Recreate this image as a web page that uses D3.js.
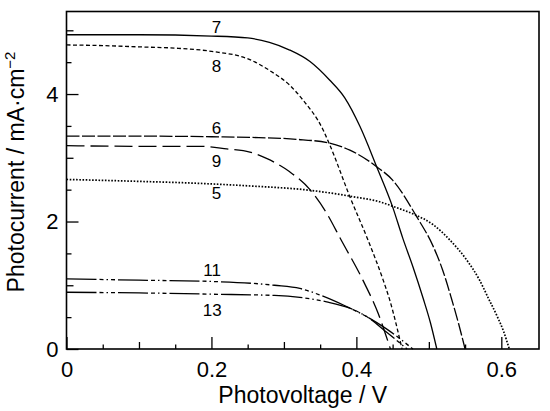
<!DOCTYPE html>
<html>
<head>
<meta charset="utf-8">
<script src="https://cdn.jsdelivr.net/npm/d3@7"></script>
<style>
  body { margin: 0; background: #fff; }
  svg { font-family: Arial, "Liberation Sans", sans-serif; }
</style>
</head>
<body>
<div class="diagram-canvas"></div>
<script>
// photocurrent–photovoltage curves, [V, mA/cm2]
const curve5 = [[0, 2.66], [0.1, 2.63], [0.18, 2.6], [0.25, 2.56], [0.336, 2.49], [0.395, 2.39],
  [0.432, 2.31], [0.455, 2.22], [0.48, 2.11], [0.506, 1.95], [0.529, 1.71], [0.552, 1.4],
  [0.57, 1.08], [0.582, 0.8], [0.594, 0.52], [0.603, 0.28], [0.611, 0]];
const curve6 = [[0, 3.34], [0.1, 3.34], [0.2, 3.33], [0.253, 3.32], [0.317, 3.29], [0.363, 3.23],
  [0.391, 3.12], [0.428, 2.86], [0.45, 2.65], [0.483, 2.08], [0.506, 1.61], [0.519, 1.24],
  [0.531, 0.8], [0.541, 0.4], [0.55, 0]];
const curve7 = [[0, 4.93], [0.1, 4.93], [0.2, 4.91], [0.25, 4.88], [0.28, 4.81], [0.308, 4.69],
  [0.336, 4.51], [0.363, 4.22], [0.384, 3.94], [0.405, 3.49], [0.428, 2.86], [0.45, 2.23],
  [0.464, 1.74], [0.478, 1.29], [0.492, 0.8], [0.502, 0.42], [0.511, 0]];
const curve8 = [[0, 4.77], [0.05, 4.76], [0.1, 4.74], [0.15, 4.72], [0.2, 4.67], [0.253, 4.54],
  [0.283, 4.35], [0.308, 4.14], [0.326, 3.91], [0.354, 3.44], [0.363, 3.21], [0.391, 2.39],
  [0.416, 1.71], [0.437, 1.08], [0.446, 0.77], [0.463, 0]];
const curve9 = [[0, 3.19], [0.1, 3.18], [0.184, 3.18], [0.221, 3.14], [0.253, 3.09], [0.276, 2.99],
  [0.308, 2.78], [0.336, 2.5], [0.359, 2.13], [0.379, 1.71], [0.409, 1.08], [0.43, 0.56], [0.447, 0]];
const curve11 = [[0, 1.1], [0.1, 1.08], [0.2, 1.06], [0.287, 1.0], [0.322, 0.95], [0.349, 0.85],
  [0.382, 0.69], [0.414, 0.51], [0.441, 0.32], [0.478, 0]];
const curve13 = [[0, 0.89], [0.1, 0.88], [0.2, 0.86], [0.287, 0.84], [0.322, 0.81], [0.359, 0.74],
  [0.391, 0.64], [0.418, 0.48], [0.441, 0.27], [0.47, 0]];

const curveNames = ["5", "6", "7", "8", "9", "11", "13"];
// where each number is written, in data units [V, J]
const labelSpots = [[0.207, 2.36], [0.207, 3.375], [0.207, 4.956], [0.207, 4.34], [0.207, 2.86],
  [0.201, 1.146], [0.201, 0.518]];

const xMajor = [0, 0.2, 0.4, 0.6];
const xMid = [0.1, 0.3, 0.5];
const xMinor = [0.05, 0.15, 0.25, 0.35, 0.45, 0.55];
const yMajor = [0, 2, 4];
const yMid = [1, 3, 5];
const yMinor = [0.5, 1.5, 2.5, 3.5, 4.5];

function chartIV() {
  let width = 550,
    height = 411,
    left = 66.5,
    top = 11.5,
    right = 539,
    bottom = 349;

  let curves = [curve5, curve6, curve7, curve8, curve9, curve11, curve13];
  let dashes = ["1.6,1.6", "13,2.5", null, "4,2.5", "18,6", "30,3,4,3,1.5,3,4,3", "30,3,4,3,1.5,3,4,3"];

  let xScale = d3.scaleLinear().domain([0, 0.652]).range([left, right]);
  let yScale = d3.scaleLinear().domain([0, 5.295]).range([bottom, top]);

  let svg = d3
    .select(".diagram-canvas")
    .append("svg")
    .attr("width", width)
    .attr("height", height);

  // ticks point inward, three lengths
  let xAxes = [[xMajor, 12, d3.format(".1f")], [xMid, 7, ""], [xMinor, 4.5, ""]];
  xAxes.forEach((a) => {
    let g = svg
      .append("g")
      .attr("transform", "translate(0," + bottom + ")")
      .call(
        d3.axisBottom(xScale)
          .tickValues(a[0])
          .tickSizeInner(-a[1])
          .tickSizeOuter(0)
          .tickPadding(12)
          .tickFormat(a[2] === "" ? () => "" : (d) => (d === 0 ? "0" : a[2](d)))
      );
    g.select(".domain").remove();
  });

  let yAxes = [[yMajor, 12, d3.format("d")], [yMid, 7, ""], [yMinor, 5, ""]];
  yAxes.forEach((a) => {
    let g = svg
      .append("g")
      .attr("transform", "translate(" + left + ",0)")
      .call(
        d3.axisLeft(yScale)
          .tickValues(a[0])
          .tickSizeInner(-a[1])
          .tickSizeOuter(0)
          .tickPadding(8)
          .tickFormat(a[2] === "" ? () => "" : a[2])
      );
    g.select(".domain").remove();
  });

  svg.selectAll(".tick line").attr("stroke", "#000").attr("stroke-width", 1.3);
  svg
    .selectAll(".tick text")
    .attr("fill", "#000")
    .style("font-size", "22px");

  svg
    .append("rect")
    .attr("x", left)
    .attr("y", top)
    .attr("width", right - left)
    .attr("height", bottom - top)
    .attr("fill", "none")
    .attr("stroke", "#000")
    .attr("stroke-width", 1.6);

  let line = d3
    .line()
    .x((d) => xScale(d[0]))
    .y((d) => yScale(d[1]))
    .curve(d3.curveMonotoneX);

  svg
    .selectAll("path.iv")
    .data(curves)
    .enter()
    .append("path")
    .attr("class", "iv")
    .attr("d", line)
    .attr("fill", "none")
    .attr("stroke", "#000")
    .attr("stroke-width", (d, i) => (i === 0 ? 1.7 : 1.3))
    .attr("stroke-dasharray", (d, i) => dashes[i]);

  svg
    .selectAll("text.name")
    .data(curveNames)
    .enter()
    .append("text")
    .attr("class", "name")
    .attr("x", (d, i) => xScale(labelSpots[i][0]))
    .attr("y", (d, i) => yScale(labelSpots[i][1]))
    .attr("text-anchor", "middle")
    .style("font-size", "17px")
    .text((d) => d);

  svg
    .append("text")
    .attr("x", (left + right) / 2)
    .attr("y", 403)
    .attr("text-anchor", "middle")
    .style("font-size", "23px")
    .text("Photovoltage / V");

  let yTitle = svg
    .append("text")
    .attr("transform", "translate(24," + 172 + ") rotate(-90)")
    .attr("text-anchor", "middle")
    .style("font-size", "23px");
  yTitle.append("tspan").text("Photocurrent / mA·cm");
  yTitle
    .append("tspan")
    .attr("dy", -9)
    .style("font-size", "15px")
    .text("−2");
}

chartIV();
</script>
</body>
</html>
